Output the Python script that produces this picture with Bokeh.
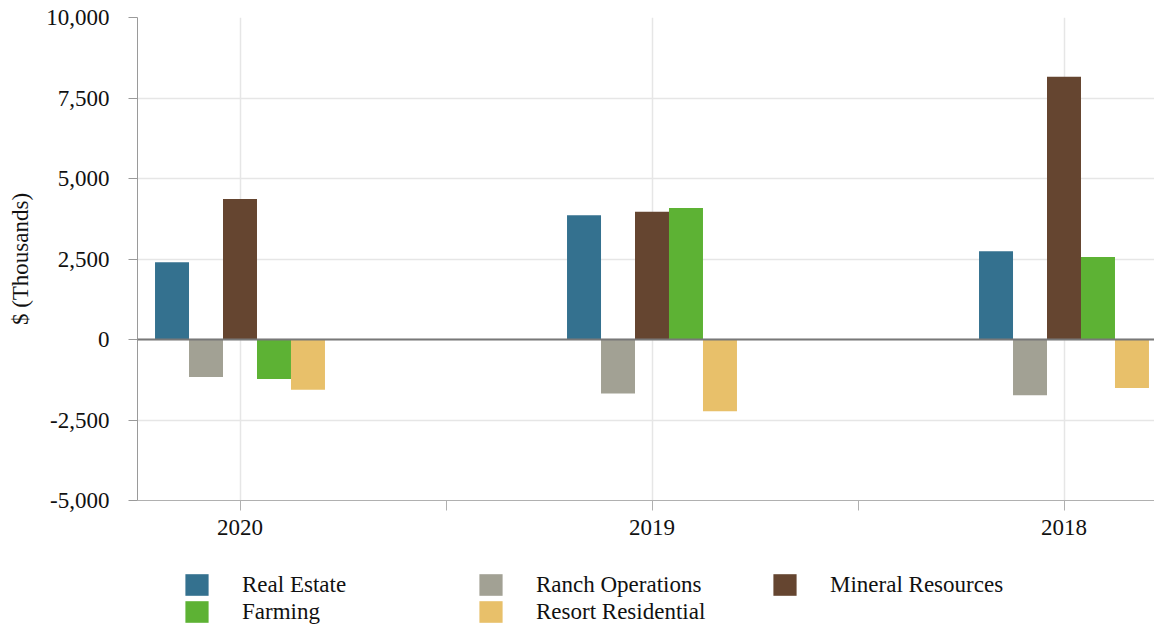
from bokeh.plotting import figure
from bokeh.layouts import column
from bokeh.models import (Range1d, FixedTicker, Legend, LegendItem, ColumnDataSource,
                          Span, NumeralTickFormatter)
from bokeh.transform import dodge
from bokeh.embed import file_html
from bokeh.resources import INLINE

years = ["2020", "2019", "2018"]
real_estate = [2400, 3855, 2740]
ranch_operations = [-1165, -1675, -1735]
mineral_resources = [4360, 3965, 8160]
farming = [-1230, 4080, 2565]
resort_residential = [-1560, -2230, -1505]

series_names = ["Real Estate", "Ranch Operations", "Mineral Resources", "Farming", "Resort Residential"]
series_values = [real_estate, ranch_operations, mineral_resources, farming, resort_residential]
colors = ["#34718f", "#a2a194", "#654530", "#5db234", "#e8c06a"]
legend_order = [0, 3, 1, 4, 2]   # column-major fill -> rows as in the reference
y_ticks = [-5000, -2500, 0, 2500, 5000, 7500, 10000]

FONT = "Liberation Serif"
FS = "23px"

src = ColumnDataSource(dict(x=list(range(len(years))),
                            **{f"s{i}": v for i, v in enumerate(series_values)}))

W = 1154
H_MAIN, H_LEG = 548, 77
BL, BT, BB = 137, 17, 48
px_per_unit = 412.0
x_start = -102.5 / px_per_unit
x_end = x_start + (W - BL) / px_per_unit

p = figure(width=W, height=H_MAIN, output_backend="svg", toolbar_location=None,
           x_range=Range1d(x_start, x_end), y_range=Range1d(-5000, 10000),
           min_border_left=BL, min_border_right=0, min_border_top=BT, min_border_bottom=BB)
p.outline_line_color = None

bar_w = 0.0825
for i, (name, col) in enumerate(zip(series_names, colors)):
    p.vbar(x=dodge("x", (i - 2) * bar_w, range=p.x_range), top=f"s{i}", bottom=0,
           width=bar_w, source=src, fill_color=col, line_color=None)

p.add_layout(Span(location=0, dimension="width", line_color="#787878", line_width=2))

# y axis
p.yaxis.ticker = FixedTicker(ticks=y_ticks)
p.yaxis.formatter = NumeralTickFormatter(format="0,0")
p.yaxis.axis_label = "$ (Thousands)"
p.yaxis.axis_label_text_font = FONT
p.yaxis.axis_label_text_font_size = FS
p.yaxis.axis_label_text_font_style = "normal"
p.yaxis.axis_label_text_color = "#111111"
p.yaxis.axis_label_standoff = 10
p.yaxis.major_label_text_font = FONT
p.yaxis.major_label_text_font_size = FS
p.yaxis.major_label_text_color = "#111111"
p.yaxis.major_label_standoff = 19
p.yaxis.major_tick_out = 9
p.yaxis.major_tick_in = 0
p.yaxis.minor_tick_line_color = None
p.yaxis.axis_line_color = "#9a9a9a"
p.yaxis.major_tick_line_color = "#9a9a9a"

# x axis
p.xaxis.ticker = FixedTicker(ticks=[0, 0.5, 1, 1.5, 2])
p.xaxis.major_label_overrides = {0: years[0], 0.5: "", 1: years[1], 1.5: "", 2: years[2]}
p.xaxis.major_label_text_font = FONT
p.xaxis.major_label_text_font_size = FS
p.xaxis.major_label_text_color = "#111111"
p.xaxis.major_label_standoff = 9
p.xaxis.major_tick_out = 10
p.xaxis.major_tick_in = 0
p.xaxis.minor_tick_line_color = None
p.xaxis.axis_line_color = "#b0b0b0"
p.xaxis.major_tick_line_color = "#b0b0b0"

p.xgrid.ticker = FixedTicker(ticks=[0, 1, 2])
p.xgrid.grid_line_color = "#e6e6e6"
p.ygrid.grid_line_color = "#e6e6e6"
p.ygrid.grid_line_width = 1.5
p.xgrid.grid_line_width = 1.5

# legend figure: hidden proxy renderers, legend drawn normally
lf = figure(width=W, height=H_LEG, output_backend="svg", toolbar_location=None,
            x_range=Range1d(0, 1), y_range=Range1d(0, 1),
            x_axis_type=None, y_axis_type=None,
            min_border_left=0, min_border_right=0, min_border_top=0, min_border_bottom=0)
lf.outline_line_color = None
lf.border_fill_color = None
lf.background_fill_color = None
items = []
for i in legend_order:
    r = lf.vbar(x="x", top=f"s{i}", bottom=0, width=bar_w, source=src,
                fill_color=colors[i], line_color=None, visible=False)
    items.append(LegendItem(label=series_names[i], renderers=[r]))

legend = Legend(items=items, location=(45, 0), ncols=3,
                glyph_width=29, glyph_height=27, label_standoff=31, label_width=234,
                label_height=23, spacing=0, padding=0, margin=0,
                label_text_font=FONT, label_text_font_size=FS, label_text_color="#111111",
                inactive_fill_alpha=0, border_line_color=None, background_fill_alpha=0)
lf.add_layout(legend, "center")

layout = column(p, lf, spacing=0)
open("out.html", "w").write(file_html(layout, INLINE))
